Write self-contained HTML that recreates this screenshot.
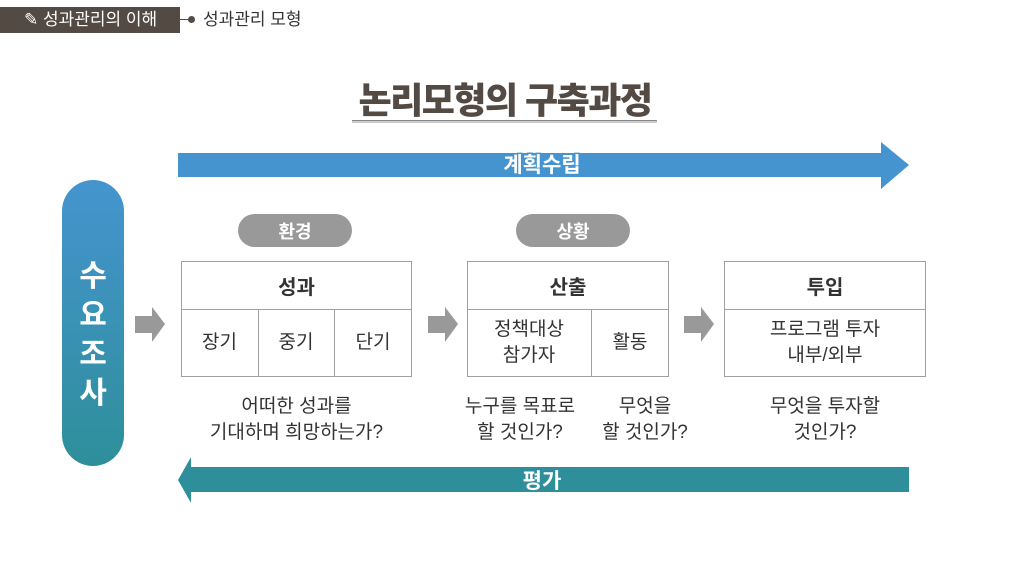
<!DOCTYPE html>
<html><head><meta charset="utf-8"><style>
body{margin:0;width:1024px;height:576px;background:#fff;position:relative;overflow:hidden;font-family:"Liberation Sans","Noto Sans CJK KR",sans-serif;color:#333}
.a{position:absolute}
.box{position:absolute;border:1px solid #a0a0a0;box-sizing:border-box}
.c{display:flex;align-items:center;justify-content:center;text-align:center;position:absolute;box-sizing:border-box}
.pill{position:absolute;background:#999;border-radius:17px;color:#fff;font-weight:bold;font-size:18px;display:flex;align-items:center;justify-content:center}
.t{font-size:19px;line-height:26px;color:#333}
</style></head><body>
<div class="a" style="left:0;top:7px;width:180px;height:26px;background:#544a44;color:#fff;font-size:17px;line-height:26px;padding-left:24px;box-sizing:border-box">✎ 성과관리의 이해</div>
<div class="a" style="left:180px;top:19px;width:12px;height:1px;background:#544a44"></div>
<div class="a" style="left:188px;top:16px;width:7px;height:7px;border-radius:50%;background:#544a44"></div>
<div class="a" style="left:203px;top:7px;font-size:17px;line-height:26px;color:#333">성과관리 모형</div>
<div class="c" style="left:340px;top:75px;width:330px;height:46px;font-size:36px;font-weight:900;color:#544a44;letter-spacing:-1.5px">논리모형의 구축과정</div>
<div class="a" style="left:352px;top:121px;width:305px;height:2px;background:#ccc"></div>
<div class="a" style="left:352px;top:120px;width:305px;height:1px;background:#888"></div>
<svg class="a" style="left:0;top:0" width="1024" height="576">
<polygon points="178,153 881,153 881,142 909,165 881,189 881,177 178,177" fill="#4594cf"/>
<polygon points="909,467 191,467 191,457 178,480 191,503 191,492 909,492" fill="#2e8f9a"/>
<g fill="#999"><polygon points="135,316 152,316 152,307 165,324 152,342 152,333 135,333"/>
<polygon points="428,316 445,316 445,307 458,324 445,342 445,333 428,333"/>
<polygon points="684,316 701,316 701,307 714,324 701,342 701,333 684,333"/></g>
<g font-family="Liberation Sans,Noto Sans CJK KR,sans-serif" font-weight="bold" font-size="21" text-anchor="middle" fill="#fff" stroke-width="3" paint-order="stroke">
<text x="542" y="172" stroke="#4594cf">계획수립</text>
<text x="542" y="488" stroke="#2e8f9a">평가</text></g>
</svg>
<div class="a" style="left:62px;top:180px;width:62px;height:286px;border-radius:31px;background:linear-gradient(#4594cf,#2e8f9a)"></div>
<div class="c" style="left:62px;top:255px;width:62px;height:160px;color:#fff;font-weight:bold;font-size:30px;line-height:39px;flex-direction:column">수<br>요<br>조<br>사</div>
<div class="pill" style="left:238px;top:214px;width:114px;height:33px">환경</div>
<div class="pill" style="left:516px;top:214px;width:114px;height:33px">상황</div>
<div class="box" style="left:181px;top:261px;width:231px;height:116px"></div>
<div class="a" style="left:181px;top:309px;width:231px;height:1px;background:#a0a0a0"></div>
<div class="a" style="left:258px;top:309px;width:1px;height:67px;background:#a0a0a0"></div>
<div class="a" style="left:334px;top:309px;width:1px;height:67px;background:#a0a0a0"></div>
<div class="c" style="left:181px;top:261px;width:231px;height:48px;font-weight:bold;font-size:20px">성과</div>
<div class="c t" style="left:181px;top:309px;width:77px;height:67px">장기</div>
<div class="c t" style="left:258px;top:309px;width:76px;height:67px">중기</div>
<div class="c t" style="left:334px;top:309px;width:78px;height:67px">단기</div>
<div class="box" style="left:467px;top:261px;width:202px;height:116px"></div>
<div class="a" style="left:467px;top:309px;width:202px;height:1px;background:#a0a0a0"></div>
<div class="a" style="left:591px;top:309px;width:1px;height:67px;background:#a0a0a0"></div>
<div class="c" style="left:467px;top:261px;width:202px;height:48px;font-weight:bold;font-size:20px">산출</div>
<div class="c t" style="left:467px;top:309px;width:124px;height:67px">정책대상<br>참가자</div>
<div class="c t" style="left:591px;top:309px;width:78px;height:67px">활동</div>
<div class="box" style="left:724px;top:261px;width:202px;height:116px"></div>
<div class="a" style="left:724px;top:309px;width:202px;height:1px;background:#a0a0a0"></div>
<div class="c" style="left:724px;top:261px;width:202px;height:48px;font-weight:bold;font-size:20px">투입</div>
<div class="c t" style="left:724px;top:309px;width:202px;height:67px">프로그램 투자<br>내부/외부</div>
<div class="c t" style="left:181px;top:393px;width:231px;height:54px">어떠한 성과를<br>기대하며 희망하는가?</div>
<div class="c t" style="left:455px;top:393px;width:130px;height:54px">누구를 목표로<br>할 것인가?</div>
<div class="c t" style="left:590px;top:393px;width:110px;height:54px">무엇을<br>할 것인가?</div>
<div class="c t" style="left:724px;top:393px;width:202px;height:54px">무엇을 투자할<br>것인가?</div>
</body></html>
